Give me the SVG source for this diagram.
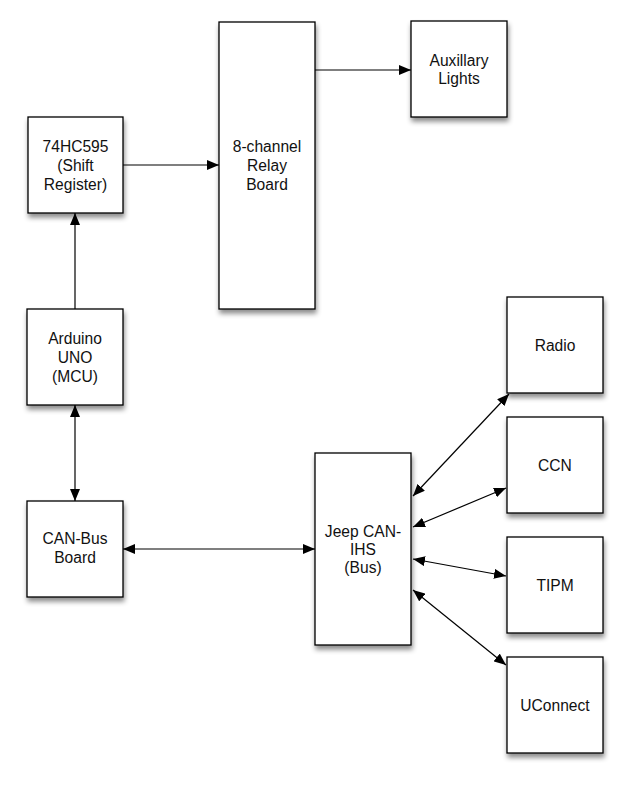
<svg xmlns="http://www.w3.org/2000/svg" width="629" height="785" viewBox="0 0 629 785">
<style>
.box{fill:#fff;stroke:#000;stroke-width:1.3;filter:url(#sh)}
.t{font-family:"Liberation Sans",Arial,sans-serif;font-size:15.6px;fill:#111;text-anchor:middle}
.c{stroke:#000;stroke-width:1.2;fill:none}
</style>
<defs>
<filter id="sh" x="-20%" y="-20%" width="150%" height="150%">
<feDropShadow dx="1" dy="4" stdDeviation="2.5" flood-color="#000" flood-opacity="0.45"/>
</filter>
<marker id="ae" viewBox="0 0 12 10" refX="12" refY="5" markerWidth="12" markerHeight="10" markerUnits="userSpaceOnUse" orient="auto">
<path d="M0,0 L12,5 L0,10 z" fill="#000"/>
</marker>
<marker id="as" viewBox="0 0 12 10" refX="0" refY="5" markerWidth="12" markerHeight="10" markerUnits="userSpaceOnUse" orient="auto">
<path d="M12,0 L0,5 L12,10 z" fill="#000"/>
</marker>
</defs>
<rect width="629" height="785" fill="#fff"/>
<g id="shift"><rect class="box" x="28" y="117" width="95" height="96"/>
<text class="t" x="75.5" y="152">74HC595</text><text class="t" x="75.5" y="171">(Shift</text><text class="t" x="75.5" y="190">Register)</text></g>
<g id="relay"><rect class="box" x="219" y="22" width="96" height="287"/>
<text class="t" x="267" y="152">8-channel</text><text class="t" x="267" y="171">Relay</text><text class="t" x="267" y="190">Board</text></g>
<g id="aux"><rect class="box" x="411" y="21" width="96" height="96"/>
<text class="t" x="459" y="66">Auxillary</text><text class="t" x="459" y="84">Lights</text></g>
<g id="arduino"><rect class="box" x="27" y="309" width="96" height="96"/>
<text class="t" x="75" y="344">Arduino</text><text class="t" x="75" y="363">UNO</text><text class="t" x="75" y="382">(MCU)</text></g>
<g id="canbus"><rect class="box" x="27" y="501" width="96" height="96"/>
<text class="t" x="75" y="544">CAN-Bus</text><text class="t" x="75" y="563">Board</text></g>
<g id="jeep"><rect class="box" x="315" y="453" width="96" height="192"/>
<text class="t" x="363" y="537">Jeep CAN-</text><text class="t" x="363" y="555">IHS</text><text class="t" x="363" y="573">(Bus)</text></g>
<g id="radio"><rect class="box" x="507" y="297" width="96" height="96"/><text class="t" x="555" y="351">Radio</text></g>
<g id="ccn"><rect class="box" x="507" y="417" width="96" height="96"/><text class="t" x="555" y="471">CCN</text></g>
<g id="tipm"><rect class="box" x="507" y="537" width="96" height="96"/><text class="t" x="555" y="591">TIPM</text></g>
<g id="uconnect"><rect class="box" x="507" y="657" width="96" height="96"/><text class="t" x="555" y="711">UConnect</text></g>
<g id="connectors">
<line class="c" x1="123" y1="165" x2="219" y2="165" marker-end="url(#ae)"/>
<line class="c" x1="315" y1="70" x2="411" y2="70" marker-end="url(#ae)"/>
<line class="c" x1="75" y1="309" x2="75" y2="213" marker-end="url(#ae)"/>
<line class="c" x1="75" y1="405" x2="75" y2="501" marker-start="url(#as)" marker-end="url(#ae)"/>
<line class="c" x1="123" y1="549" x2="315" y2="549" marker-start="url(#as)" marker-end="url(#ae)"/>
<line class="c" x1="413" y1="496" x2="509" y2="394" marker-start="url(#as)" marker-end="url(#ae)"/>
<line class="c" x1="413" y1="527" x2="506" y2="488" marker-start="url(#as)" marker-end="url(#ae)"/>
<line class="c" x1="413" y1="559" x2="506" y2="576" marker-start="url(#as)" marker-end="url(#ae)"/>
<line class="c" x1="413" y1="590" x2="506" y2="665" marker-start="url(#as)" marker-end="url(#ae)"/>
</g>
</svg>
